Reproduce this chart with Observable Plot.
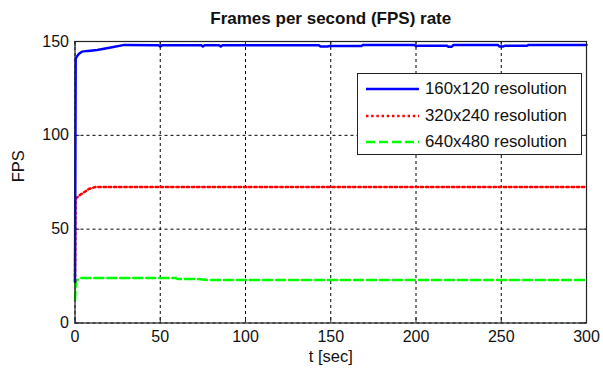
<!DOCTYPE html>
<html>
<head>
<meta charset="utf-8">
<script src="https://cdn.jsdelivr.net/npm/d3@7"></script>
<script src="https://cdn.jsdelivr.net/npm/@observablehq/plot@0.6"></script>
<style>
  html, body { margin: 0; padding: 0; background: white; }
  #wrap { position: relative; width: 603px; height: 371px; font-family: "Liberation Sans", Arial, sans-serif; }
  #legend { position: absolute; left: 357px; top: 73px; width: 223px; height: 80px; border: 1px solid #222; background: white; }
  .row { position: absolute; left: 8px; height: 20px; display: flex; align-items: center; font-size: 16.8px; color: #111; }
  .row svg { margin-right: 6px; }
</style>
</head>
<body>
<div id="wrap"></div>
<script>
// ---- data ----
const title = "Frames per second (FPS) rate";
const xLabel = "t [sec]";
const yLabel = "FPS";
const xTicks = [0, 50, 100, 150, 200, 250, 300];
const yTicks = [0, 50, 100, 150];
const seriesNames = ["160x120 resolution", "320x240 resolution", "640x480 resolution"];

const t160 = [0, 0.4, 2.2, 4, 7.5, 13, 21, 29, 49, 50, 51, 74, 75, 76, 84.5, 85.5, 86.5, 143, 144, 148, 149.5, 168, 169, 199, 200, 201.5, 218, 219, 221, 222, 248, 249, 251, 252, 265, 266, 300];
const fps160 = [22, 141, 143.4, 144.6, 145, 145.5, 146.8, 148.2, 148.0, 147.3, 148.0, 148.0, 147.3, 148.0, 148.0, 147.3, 148.0, 148.0, 147.3, 147.3, 147.6, 147.6, 148.2, 148.2, 147.5, 147.8, 147.8, 147.2, 147.2, 148.2, 148.2, 147.3, 147.3, 147.7, 147.7, 148.2, 148.2];

const t320 = [0, 0.3, 2.2, 5.2, 8.1, 12, 300];
const fps320 = [22, 66, 67.8, 69.6, 71.4, 72.5, 72.5];

const t640 = [0, 0.5, 1.5, 3, 59, 60, 71, 78, 300];
const fps640 = [12, 22.5, 23.0, 24.0, 24.0, 23.5, 23.5, 22.9, 22.9];

// ---- build tables ----
const toRows = (ts, vs) => ts.map((t, i) => ({t, fps: vs[i]}));
const d160 = toRows(t160, fps160);
const d320 = toRows(t320, fps320);
const d640 = toRows(t640, fps640);

const styles = [
  {stroke: "#0000ff", strokeWidth: 2.5, strokeDasharray: null},
  {stroke: "#ff0000", strokeWidth: 2.5, strokeDasharray: "2.4,2.8"},
  {stroke: "#00ff00", strokeWidth: 2.5, strokeDasharray: "9,4"}
];

const W = 603, H = 371, mL = 74.5, mR = 17, mT = 41, mB = 48.5;
const pw = W - mL - mR, ph = H - mT - mB;

const chart = Plot.plot({
  width: W, height: H,
  marginLeft: mL, marginRight: mR, marginTop: mT, marginBottom: mB,
  style: {fontFamily: "'Liberation Sans', Arial, sans-serif", fontSize: "16px", color: "#111", background: "white"},
  x: {domain: [0, 300]},
  y: {domain: [0, 150]},
  marks: [
    Plot.gridX(xTicks, {stroke: "#000", strokeOpacity: 1, strokeDasharray: "3,3", strokeWidth: 1}),
    Plot.gridY(yTicks, {stroke: "#000", strokeOpacity: 1, strokeDasharray: "3,3", strokeWidth: 1}),
    Plot.tickX(xTicks, {x: d => d, stroke: "#222", insetTop: ph - 5}),
    Plot.tickX(xTicks, {x: d => d, stroke: "#222", insetBottom: ph - 5}),
    Plot.tickY(yTicks, {y: d => d, stroke: "#222", insetRight: pw - 5}),
    Plot.tickY(yTicks, {y: d => d, stroke: "#222", insetLeft: pw - 5}),
    Plot.lineY(d640, {x: "t", y: "fps", ...styles[2], curve: "linear"}),
    Plot.lineY(d320, {x: "t", y: "fps", ...styles[1], curve: "linear"}),
    Plot.lineY(d160, {x: "t", y: "fps", ...styles[0], curve: "linear"}),
    Plot.frame({stroke: "#222", strokeWidth: 1.2}),
    Plot.axisX(xTicks, {tickSize: 0, tickPadding: 8, label: null, fontSize: 16}),
    Plot.axisY(yTicks, {tickSize: 0, tickPadding: 6, label: null, fontSize: 16}),
    Plot.text([xLabel], {frameAnchor: "bottom", dy: 34, text: d => d, fontSize: 16.5, lineAnchor: "middle"}),
    Plot.text([yLabel], {frameAnchor: "left", dx: -56, rotate: -90, text: d => d, fontSize: 16.5, lineAnchor: "middle"}),
    Plot.text([title], {frameAnchor: "top", dy: -23, text: d => d, fontSize: 17, fontWeight: "bold", lineAnchor: "middle"})
  ]
});

const wrap = document.getElementById("wrap");
wrap.appendChild(chart);

// legend
const legend = document.createElement("div");
legend.id = "legend";
const rowTops = [5, 32, 58];
seriesNames.forEach((name, i) => {
  const row = document.createElement("div");
  row.className = "row";
  row.style.top = rowTops[i] + "px";
  const s = styles[i];
  row.innerHTML = `<svg width="53" height="10"><line x1="0" x2="53" y1="5" y2="5" stroke="${s.stroke}" stroke-width="${s.strokeWidth}" ${s.strokeDasharray ? `stroke-dasharray="${s.strokeDasharray}"` : ""}/></svg><span>${name}</span>`;
  legend.appendChild(row);
});
wrap.appendChild(legend);
</script>
</body>
</html>
